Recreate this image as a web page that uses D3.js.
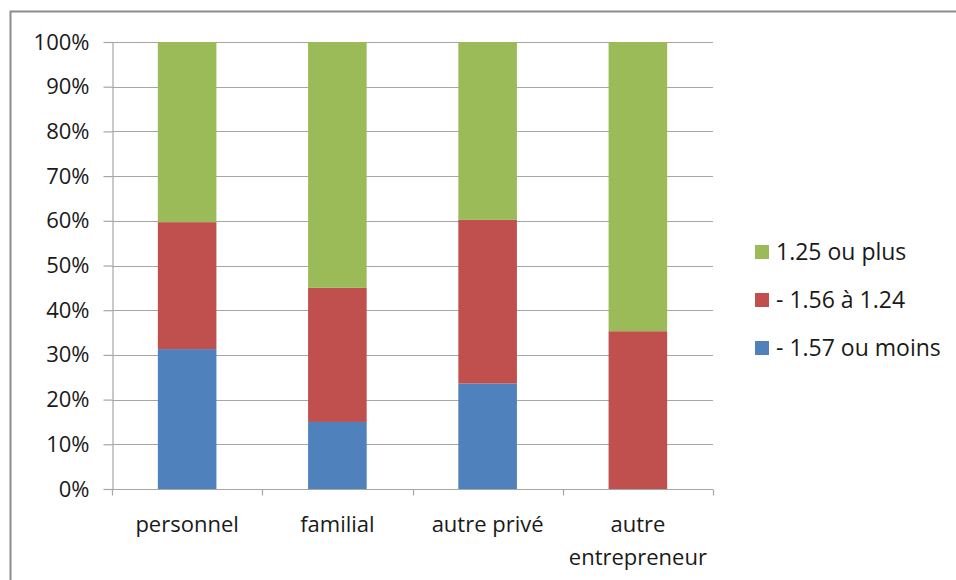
<!DOCTYPE html>
<html>
<head>
<meta charset="utf-8">
<script src="https://cdn.jsdelivr.net/npm/d3@7"></script>
<style>
  body { margin: 0; background: #fff; }
  text { font-family: "Open Sans", sans-serif; fill: #1a1a1a; }
</style>
</head>
<body>
<div id="chart"></div>
<script>
// categories and series (shares, in %)
const categories = ["personnel", "familial", "autre privé", "autre entrepreneur"];
const seriesNames = ["- 1.57 ou moins", "- 1.56 à 1.24", "1.25 ou plus"];
const low = [31.3, 15.0, 23.6, 0.0];
const mid = [28.4, 30.0, 36.6, 35.3];
const high = [40.3, 55.0, 39.8, 64.7];
const colors = ["#4F81BD", "#C0504D", "#9BBB59"];
const yTicks = [0, 10, 20, 30, 40, 50, 60, 70, 80, 90, 100];

const W = 956, H = 580;
const margin = {top: 42, left: 112, right: 243, bottom: 91};
const width = W - margin.left - margin.right,
  height = H - margin.top - margin.bottom;

const svg = d3.select("#chart").append("svg")
  .attr("width", W).attr("height", H);

// outer chart frame
svg.append("rect")
  .attr("x", 10.5).attr("y", 11.5)
  .attr("width", W + 20).attr("height", H + 20)
  .attr("fill", "none").attr("stroke", "#8c8c8c").attr("stroke-width", 2);

const g = svg.append("g")
  .attr("transform", "translate(" + margin.left + "," + margin.top + ")");

const x = d3.scaleBand().domain(categories).range([0, width]).paddingInner(0.61).paddingOuter(0.305);
const xb = d3.scaleBand().domain(categories).range([0, width]);
const y = d3.scaleLinear().domain([0, 100]).range([height, 0]);

// grid lines
g.selectAll("line.grid").data(yTicks).enter()
  .append("line")
  .attr("class", "grid")
  .attr("x1", 0).attr("x2", width)
  .attr("y1", d => Math.round(y(d)) + 0.5).attr("y2", d => Math.round(y(d)) + 0.5)
  .attr("stroke", "#a6a6a6").attr("stroke-width", 1.2);

// stacked data
const table = categories.map((c, i) => ({cat: c, s0: low[i], s1: mid[i], s2: high[i]}));
const stack = d3.stack().keys(["s0", "s1", "s2"])(table);

g.selectAll("g.layer").data(stack).enter()
  .append("g")
  .attr("fill", (d, i) => colors[i])
  .selectAll("rect").data(d => d).enter()
  .append("rect")
  .attr("x", d => x(d.data.cat))
  .attr("width", x.bandwidth())
  .attr("y", d => y(d[1]))
  .attr("height", d => y(d[0]) - y(d[1]));

// y axis
const yAxis = g.append("g")
  .attr("transform", "translate(0.5,0)")
  .call(d3.axisLeft(y).tickValues(yTicks).tickFormat(d => d + "%").tickSize(9).tickSizeOuter(0));
yAxis.select(".domain").attr("stroke", "#a6a6a6").attr("stroke-width", 1.2);
yAxis.selectAll(".tick line").attr("stroke", "#a6a6a6").attr("stroke-width", 1.2);
yAxis.selectAll(".tick text")
  .attr("x", -23)
  .style("font-size", "22px").style("font-family", "Open Sans, sans-serif").attr("fill", "#1a1a1a");

// x axis with ticks at band boundaries
const xAxisG = g.append("g").attr("transform", "translate(0," + (Math.round(height) + 0.5) + ")");
xAxisG.append("line").attr("x1", 0).attr("x2", width)
  .attr("stroke", "#a6a6a6").attr("stroke-width", 1.2);
const bounds = categories.map(c => xb(c)).concat([width]);
xAxisG.selectAll("line.xt").data(bounds).enter()
  .append("line").attr("class", "xt")
  .attr("x1", d => Math.round(d) + 0.5).attr("x2", d => Math.round(d) + 0.5)
  .attr("y1", 0).attr("y2", 6)
  .attr("stroke", "#a6a6a6").attr("stroke-width", 1.2);

// category labels (wrapped)
const labelLines = {"autre entrepreneur": ["autre", "entrepreneur"]};
xAxisG.selectAll("text.cat").data(categories).enter()
  .append("text").attr("class", "cat")
  .attr("text-anchor", "middle")
  .attr("x", d => xb(d) + xb.bandwidth() / 2)
  .attr("y", 42)
  .style("font-size", "22px")
  .each(function(d) {
    const lines = labelLines[d] || [d];
    d3.select(this).selectAll("tspan").data(lines).enter()
      .append("tspan")
      .attr("x", xb(d) + xb.bandwidth() / 2)
      .attr("dy", (l, i) => i === 0 ? 0 : 33)
      .text(l => l);
  });

// legend (reverse order, top = last series)
const legend = svg.append("g").attr("transform", "translate(755,252)");
const legItems = seriesNames.map((n, i) => ({name: n, color: colors[i]})).reverse();
const li = legend.selectAll("g").data(legItems).enter()
  .append("g").attr("transform", (d, i) => "translate(0," + i * 48 + ")");
li.append("rect").attr("x", 0).attr("y", -7).attr("width", 14).attr("height", 14)
  .attr("fill", d => d.color);
li.append("text").attr("x", 21).attr("y", 0).attr("dy", "0.35em")
  .style("font-size", "23px").text(d => d.name);
</script>
</body>
</html>
